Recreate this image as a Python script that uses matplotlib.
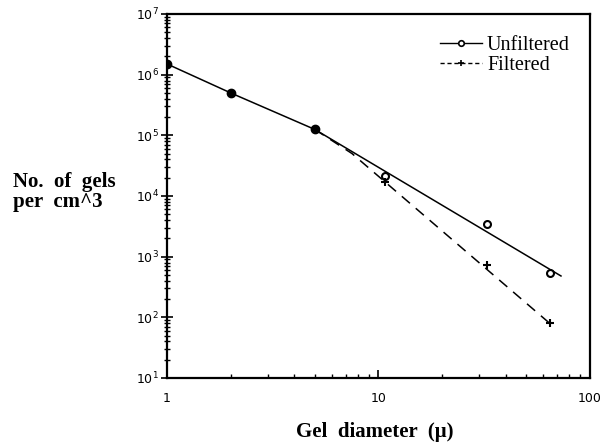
import numpy as np
import matplotlib
matplotlib.use("Agg")
import matplotlib.pyplot as plt
from matplotlib.ticker import LogLocator, NullFormatter

# measured points (gel diameter in microns, gels per cm^3)
diam_unf = [1, 2, 5, 10.7, 32.6, 65]
gels_unf = [1.5e6, 5.0e5, 1.25e5, 2.1e4, 3.4e3, 530]
diam_fil = [1, 2, 5, 10.7, 32.6, 65]
gels_fil = [1.5e6, 5.0e5, 1.25e5, 1.7e4, 720, 80]

# fitted curves drawn through the data
fit_unf_x = [1, 2, 5, 73]
fit_unf_y = [1.5e6, 5.0e5, 1.25e5, 480]
fit_fil_x = [5, 7.5, 65]
fit_fil_y = [1.25e5, 5.0e4, 78]

fig = plt.figure(figsize=(6.08, 4.48), dpi=100)
ax = fig.add_axes([0.2747, 0.1563, 0.6955, 0.8125])

ax.plot(fit_unf_x, fit_unf_y, '-', color='black', lw=1.1)
ax.plot(fit_fil_x, fit_fil_y, '--', color='black', lw=1.1, dashes=(7, 5))
ax.plot(diam_unf[3:], gels_unf[3:], 'o', ms=5, mfc='white', mec='black', mew=1.5)
ax.plot(diam_fil[3:], gels_fil[3:], '+', ms=6, mec='black', mew=1.5)
# where both series coincide the markers merge into a solid dot
ax.plot(diam_unf[:3], gels_unf[:3], 'o', ms=6, color='black')

# legend entries
ax.plot([], [], '-', marker='o', ms=4, mfc='white', mec='black', mew=1.2,
        color='black', lw=1, label='Unfiltered')
ax.plot([], [], '--', marker='+', ms=5, mew=1.2, color='black', lw=1,
        dashes=(3, 2), label='Filtered')
leg = ax.legend(loc='upper right', bbox_to_anchor=(0.967, 0.957),
                frameon=False, handlelength=2.1,
                handletextpad=0.25, labelspacing=0.05, borderaxespad=0,
                borderpad=0.3,
                prop={'family': 'Liberation Serif', 'size': 14.5})

ax.set_xscale('log')
ax.set_yscale('log')
ax.set_xlim(1, 100)
ax.set_ylim(10, 1e7)

ax.yaxis.set_minor_locator(LogLocator(base=10, subs=np.arange(2, 10)))
ax.xaxis.set_minor_locator(LogLocator(base=10, subs=np.arange(2, 10)))
ax.yaxis.set_minor_formatter(NullFormatter())
ax.xaxis.set_minor_formatter(NullFormatter())
ax.set_xticks([1, 10, 100])
ax.set_xticklabels(['1', '10', '100'])

ax.tick_params(axis='y', which='major', direction='inout', length=8, width=1.2,
               labelsize=9, pad=2)
ax.tick_params(axis='y', which='minor', direction='inout', length=4, width=1)
ax.tick_params(axis='x', which='major', direction='in', length=6, width=1.2,
               labelsize=9, pad=10)
ax.tick_params(axis='x', which='minor', direction='in', length=3, width=1)
for s in ax.spines.values():
    s.set_linewidth(1.6)

fig.text(0.021, 0.572, 'No.  of  gels\nper  cm^3', family='Liberation Serif',
         weight='bold', fontsize=15, ha='left', va='center', linespacing=1.0)
fig.text(0.617, 0.036, 'Gel  diameter  (\u03bc)', family='Liberation Serif',
         weight='bold', fontsize=15, ha='center', va='center')

plt.savefig('out.png', dpi=100)
